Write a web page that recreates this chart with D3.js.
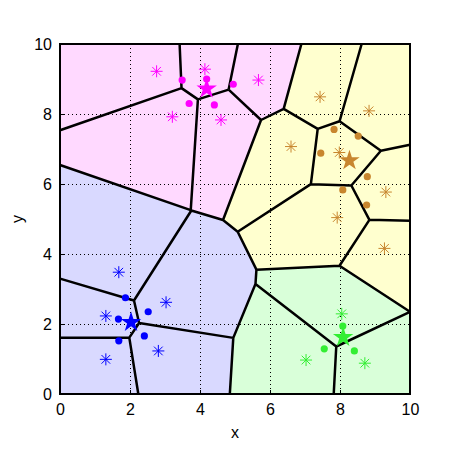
<!DOCTYPE html>
<html>
<head>
<meta charset="utf-8">
<script src="https://cdn.jsdelivr.net/npm/d3@7"></script>
<style>
  body { margin: 0; background: #fff; }
  svg { display: block; font-family: "Liberation Sans", Arial, sans-serif; }
</style>
</head>
<body>
<div class="chart"></div>
<script>
// taille de la figure
const width = 454;
const height = 454;
const margin = { top: 44, right: 44, bottom: 60, left: 60 };

// classes
const classNames = ['magenta', 'brown', 'green', 'blue'];
const classColors = ['#ff00ff', '#c8862e', '#33ee33', '#0000ff'];
const classFills = ['#ffd9ff', '#ffffcf', '#d9ffd9', '#d9d9ff'];

// prototypes (asterisques) -> générateurs des cellules
const protoMagenta = [[2.76, 9.22], [4.14, 9.28], [3.21, 7.92], [4.6, 7.83], [5.67, 8.97]];
const protoBrown = [[7.43, 8.49], [8.83, 8.09], [6.6, 7.07], [7.98, 6.9], [9.31, 5.77], [7.92, 5.04], [9.27, 4.16]];
const protoGreen = [[8.05, 2.29], [7.03, 0.97], [8.71, 0.88]];
const protoBlue = [[1.68, 3.48], [1.31, 2.23], [1.31, 0.99], [3.03, 2.62], [2.81, 1.23]];

// points (ronds)
const dotsMagenta = [[3.49, 8.97], [4.19, 9.0], [3.69, 8.30], [4.41, 8.26], [4.95, 8.85]];
const dotsBrown = [[7.83, 7.56], [8.52, 7.37], [7.45, 6.88], [8.78, 6.21], [8.08, 5.83], [8.76, 5.4]];
const dotsGreen = [[8.08, 1.94], [7.55, 1.29], [8.41, 1.23]];
const dotsBlue = [[1.87, 2.75], [1.67, 2.14], [2.52, 2.35], [1.68, 1.52], [2.41, 1.66]];

// moyennes (étoiles)
const starMagenta = [4.19, 8.72];
const starBrown = [8.27, 6.67];
const starGreen = [8.09, 1.62];
const starBlue = [2.03, 2.05];

const xTicks = [0, 2, 4, 6, 8, 10];
const yTicks = [0, 2, 4, 6, 8, 10];
const gridTicks = [2, 4, 6, 8];

const protos = [protoMagenta, protoBrown, protoGreen, protoBlue];
const dots = [dotsMagenta, dotsBrown, dotsGreen, dotsBlue];
const stars = [starMagenta, starBrown, starGreen, starBlue];

const svg = d3.select('.chart')
  .append('svg')
  .attr('width', width)
  .attr('height', height);

const x = d3.scaleLinear().domain([0, 10]).range([margin.left, width - margin.right]);
const y = d3.scaleLinear().domain([0, 10]).range([height - margin.bottom, margin.top]);

// générateurs + classe
const gens = [];
protos.forEach((list, c) => list.forEach(p => gens.push({ p: p, c: c })));

const delaunay = d3.Delaunay.from(gens, d => x(d.p[0]), d => y(d.p[1]));
const voronoi = delaunay.voronoi([x(0), y(10), x(10), y(0)]);

// cellules colorées
svg.append('g')
  .selectAll('path')
  .data(gens)
  .join('path')
    .attr('d', (d, i) => voronoi.renderCell(i))
    .attr('fill', d => classFills[d.c])
    .attr('stroke', d => classFills[d.c])
    .attr('stroke-width', 0.5);

// grille pointillée
const grid = svg.append('g')
  .attr('stroke', '#000')
  .attr('stroke-width', 1)
  .attr('stroke-dasharray', '1,3');
grid.selectAll('.gx')
  .data(gridTicks)
  .join('line')
    .attr('x1', d => x(d) + 0.5).attr('x2', d => x(d) + 0.5)
    .attr('y1', y(10)).attr('y2', y(0));
grid.selectAll('.gy')
  .data(gridTicks)
  .join('line')
    .attr('class', 'gy')
    .attr('y1', d => y(d) + 0.5).attr('y2', d => y(d) + 0.5)
    .attr('x1', x(0)).attr('x2', x(10));

// arêtes de Voronoi
svg.append('path')
  .attr('d', voronoi.render())
  .attr('fill', 'none')
  .attr('stroke', '#000')
  .attr('stroke-width', 2.5)
  .attr('stroke-linejoin', 'round');

// marqueurs
const marks = svg.append('g');

// ronds
dots.forEach((list, c) => {
  marks.append('g')
    .selectAll('circle')
    .data(list)
    .join('circle')
      .attr('cx', d => x(d[0]))
      .attr('cy', d => y(d[1]))
      .attr('r', 3.6)
      .attr('fill', classColors[c]);
});

// astérisques
const arm = 6;
const asteriskPath = `M${-arm},0L${arm},0M0,${-arm}L0,${arm}` +
  `M${-arm * 0.72},${-arm * 0.72}L${arm * 0.72},${arm * 0.72}` +
  `M${-arm * 0.72},${arm * 0.72}L${arm * 0.72},${-arm * 0.72}`;
protos.forEach((list, c) => {
  marks.append('g')
    .selectAll('path')
    .data(list)
    .join('path')
      .attr('transform', d => `translate(${x(d[0])},${y(d[1])})`)
      .attr('d', asteriskPath)
      .attr('fill', 'none')
      .attr('stroke', classColors[c])
      .attr('stroke-width', 1);
});

// étoiles
const starSymbol = d3.symbol().type(d3.symbolStar).size(130);
marks.append('g')
  .selectAll('path')
  .data(stars)
  .join('path')
    .attr('transform', d => `translate(${x(d[0])},${y(d[1])})`)
    .attr('d', starSymbol)
    .attr('fill', (d, i) => classColors[i]);

// axes
const axisX = svg.append('g')
  .attr('transform', `translate(0, ${y(0)})`)
  .call(d3.axisBottom(x).tickValues(xTicks).tickSizeInner(-4).tickSizeOuter(0).tickPadding(10));
const axisY = svg.append('g')
  .attr('transform', `translate(${x(0)}, 0)`)
  .call(d3.axisLeft(y).tickValues(yTicks).tickSizeInner(-4).tickSizeOuter(0).tickPadding(8));
[axisX, axisY].forEach(g => {
  g.select('.domain').remove();
  g.selectAll('text').attr('font-size', 16).attr('font-family', '"Liberation Sans", Arial, sans-serif').attr('fill', '#000');
  g.selectAll('line').attr('stroke-width', 1);
});

// cadre
svg.append('rect')
  .attr('x', x(0))
  .attr('y', y(10))
  .attr('width', x(10) - x(0))
  .attr('height', y(0) - y(10))
  .attr('fill', 'none')
  .attr('stroke', '#000')
  .attr('stroke-width', 2);

// titres des axes
svg.append('text')
  .attr('x', (x(0) + x(10)) / 2)
  .attr('y', 438)
  .attr('text-anchor', 'middle')
  .attr('font-size', 16)
  .text('x');
svg.append('text')
  .attr('transform', `translate(23, ${(y(0) + y(10)) / 2}) rotate(-90)`)
  .attr('text-anchor', 'middle')
  .attr('font-size', 16)
  .text('y');
</script>
</body>
</html>
